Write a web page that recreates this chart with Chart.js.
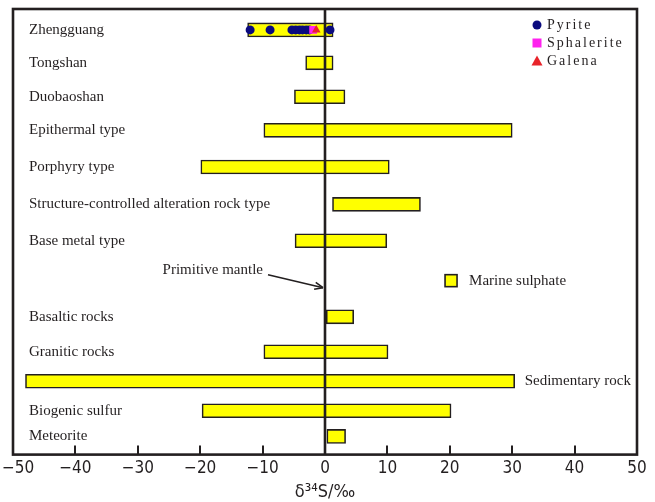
<!DOCTYPE html>
<html>
<head>
<meta charset="utf-8">
<script src="https://cdn.jsdelivr.net/npm/chart.js@4/dist/chart.umd.min.js"></script>
<style>
  html, body { margin: 0; padding: 0; background: #fff; }
</style>
</head>
<body>
<canvas id="c" width="655" height="502"></canvas>
<script>
// Sulfur isotope ranges (δ34S, ‰) by deposit / reservoir
const groups = ['Zhengguang', 'Tongshan', 'Duobaoshan', 'Epithermal type', 'Porphyry type',
  'Structure-controlled alteration rock type', 'Base metal type', 'Basaltic rocks',
  'Granitic rocks', 'Sedimentary rock', 'Biogenic sulfur', 'Meteorite'];
// vertical level of each group on the (hidden) y scale
const groupLevel = [0.61, 1.57, 2.56, 3.54, 4.61, 5.70, 6.76, 8.98, 10.0, 10.86, 11.72, 12.47];
const rangeMin = [-12.4, -3.1, -4.9, -9.8, -19.9, 1.2, -4.8, 0.2, -9.8, -48.0, -19.7, 0.3];
const rangeMax = [1.3, 1.3, 3.2, 30.0, 10.3, 15.3, 9.9, 4.6, 10.1, 30.4, 20.2, 3.3];
const rightLabelled = ['Sedimentary rock'];

// Zhengguang sulfide analyses
const pyrite = [-12.0, -8.8, -5.3, -4.7, -4.1, -3.6, -3.0, -2.5, 0.8];
const sphalerite = [-1.9];
const galena = [-1.4];

// primitive mantle reference value
const mantleValue = 0;
const mantleLevel = 8.13;

const xTicks = [-50, -40, -30, -20, -10, 0, 10, 20, 30, 40, 50];

const INK = '#231f20';
const SERIF = '"Liberation Serif", "Times New Roman", serif';
const NARROW = '"Liberation Sans Narrow", "DejaVu Sans Condensed", "Liberation Sans", sans-serif';

const zhLevel = groupLevel[groups.indexOf('Zhengguang')];
const pts = arr => arr.map(v => ({ x: v, y: zhLevel }));

const framePlugin = {
  id: 'frame',
  beforeDraw(chart) {
    // keep the first tick label inside the canvas
    const xs = chart.scales.x;
    const items = xs.getLabelItems();
    if (!items.length) return;
    const first = items[0];
    const ctx = chart.ctx;
    ctx.save();
    ctx.font = first.font.string;
    const half = ctx.measureText(String(first.label)).width / 2;
    ctx.restore();
    const t = first.options.translation;
    if (t[0] - half < 2) t[0] = half + 2;
  },
  afterDatasetDraw(chart, args) {
    if (args.index !== 0) return;
    const { ctx, chartArea: a, scales: { x } } = chart;
    const x0 = x.getPixelForValue(mantleValue);
    ctx.save();
    ctx.strokeStyle = INK;
    ctx.lineWidth = 2.6;
    ctx.beginPath();
    ctx.moveTo(x0, a.top);
    ctx.lineTo(x0, a.bottom);
    ctx.stroke();
    ctx.restore();
  },
  afterDraw(chart) {
    const { ctx, chartArea: a, scales: { x, y } } = chart;
    ctx.save();
    ctx.strokeStyle = INK;
    // inward tick marks
    ctx.lineWidth = 2;
    xTicks.forEach(t => {
      if (t === x.min || t === x.max) return;
      const px = Math.round(x.getPixelForValue(t));
      ctx.beginPath();
      ctx.moveTo(px, a.bottom);
      ctx.lineTo(px, a.bottom - 9);
      ctx.stroke();
    });
    // plot frame
    ctx.lineWidth = 2.6;
    ctx.strokeRect(a.left, a.top, a.right - a.left, a.bottom - a.top);

    // group labels
    ctx.fillStyle = INK;
    ctx.font = '15px ' + SERIF;
    ctx.textBaseline = 'middle';
    ctx.textAlign = 'left';
    groups.forEach((g, i) => {
      const py = y.getPixelForValue(groupLevel[i]);
      const px = rightLabelled.includes(g) ? x.getPixelForValue(rangeMax[i]) + 10 : a.left + 16;
      ctx.fillText(g, px, py);
    });

    // primitive mantle annotation
    const tipX = x.getPixelForValue(mantleValue) - 2;
    const tipY = y.getPixelForValue(mantleLevel);
    ctx.textAlign = 'right';
    ctx.fillText('Primitive mantle', tipX - 60, tipY - 18);
    const sx = tipX - 55, sy = tipY - 13;
    ctx.lineWidth = 1.6;
    ctx.beginPath();
    ctx.moveTo(sx, sy);
    ctx.lineTo(tipX, tipY);
    ctx.stroke();
    const ang = Math.atan2(tipY - sy, tipX - sx);
    ctx.beginPath();
    ctx.moveTo(tipX, tipY);
    ctx.lineTo(tipX - 9 * Math.cos(ang - 0.4), tipY - 9 * Math.sin(ang - 0.4));
    ctx.moveTo(tipX, tipY);
    ctx.lineTo(tipX - 9 * Math.cos(ang + 0.4), tipY - 9 * Math.sin(ang + 0.4));
    ctx.stroke();

    // bar legend
    const bar = chart.data.datasets[0];
    const lx = x.getPixelForValue(20.2), ly = tipY - 7;
    ctx.fillStyle = bar.backgroundColor;
    ctx.fillRect(lx - 6, ly - 6, 12, 12);
    ctx.lineWidth = 1.6;
    ctx.strokeRect(lx - 6, ly - 6, 12, 12);
    ctx.fillStyle = INK;
    ctx.textAlign = 'left';
    ctx.fillText(bar.label, lx + 18, ly);

    // point legend
    ctx.font = '14px ' + SERIF;
    ctx.letterSpacing = '2px';
    chart.data.datasets.slice(1).forEach((ds, i) => {
      const cx = a.right - 100, cy = a.top + 16 + i * 18;
      ctx.fillStyle = ds.backgroundColor;
      ctx.beginPath();
      if (ds.pointStyle === 'circle') {
        ctx.arc(cx, cy, 4.5, 0, Math.PI * 2);
      } else if (ds.pointStyle === 'rect') {
        ctx.rect(cx - 4.5, cy - 4.5, 9, 9);
      } else {
        ctx.moveTo(cx, cy - 5.5);
        ctx.lineTo(cx + 5.5, cy + 4.5);
        ctx.lineTo(cx - 5.5, cy + 4.5);
        ctx.closePath();
      }
      ctx.fill();
      ctx.fillStyle = INK;
      ctx.fillText(ds.label, cx + 10, cy);
    });
    ctx.restore();
  }
};

new Chart(document.getElementById('c'), {
  data: {
    datasets: [
      {
        type: 'bar',
        label: 'Marine sulphate',
        indexAxis: 'y',
        data: groups.map((g, i) => ({ y: groupLevel[i], x: [rangeMin[i], rangeMax[i]] })),
        backgroundColor: '#ffff00',
        borderColor: INK,
        borderWidth: 1.6,
        borderSkipped: false,
        barThickness: 14,
        order: 2
      },
      {
        type: 'scatter', label: 'Pyrite', data: pts(pyrite),
        pointStyle: 'circle', pointRadius: 4.5, backgroundColor: '#0a0a7e', borderWidth: 0, order: 1
      },
      {
        type: 'scatter', label: 'Sphalerite', data: pts(sphalerite),
        pointStyle: 'rect', pointRadius: 5.5, backgroundColor: '#ff22ee', borderWidth: 0, order: 0
      },
      {
        type: 'scatter', label: 'Galena', data: pts(galena),
        pointStyle: 'triangle', pointRadius: 5, backgroundColor: '#e8232a', borderWidth: 0, order: -1
      }
    ]
  },
  options: {
    responsive: false,
    animation: false,
    devicePixelRatio: 1,
    layout: { padding: { left: 13, right: 18, top: 9, bottom: 0 } },
    plugins: { legend: { display: false }, tooltip: { enabled: false } },
    scales: {
      x: {
        type: 'linear', min: -50, max: 50,
        afterBuildTicks: s => { s.ticks = xTicks.map(v => ({ value: v })); },
        afterFit: s => { s.paddingLeft = 0; },
        grid: { display: false, drawTicks: false },
        border: { display: false },
        ticks: {
          color: INK, padding: 4, maxRotation: 0, autoSkip: false,
          font: { family: NARROW, size: 17 },
          callback: v => String(v).replace('-', '\u2212')
        },
        title: {
          display: true, text: 'δ³⁴S/‰', color: INK,
          font: { family: NARROW, size: 18, lineHeight: 1 },
          padding: { top: 0, bottom: 1 }
        }
      },
      y: { type: 'linear', min: 0, max: 13, reverse: true, offset: false, display: false }
    }
  },
  plugins: [framePlugin]
});
</script>
</body>
</html>
